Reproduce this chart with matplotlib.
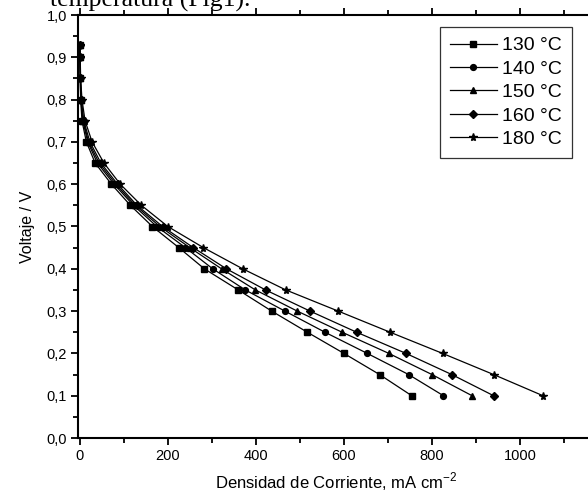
import numpy as np
import matplotlib
matplotlib.use("Agg")
import matplotlib.pyplot as plt
from matplotlib.ticker import MultipleLocator, FuncFormatter

plt.rcParams['font.family'] = ['Liberation Sans', 'DejaVu Sans']

# voltaje (V) para cada punto medido
voltaje = [0.93, 0.90, 0.85, 0.80, 0.75, 0.70, 0.65, 0.60, 0.55,
           0.50, 0.45, 0.40, 0.35, 0.30, 0.25, 0.20, 0.15, 0.10]

# densidad de corriente (mA cm-2) por temperatura
i_130 = [0, 0.5, 1, 2, 5, 15, 35, 72, 115, 165, 225, 283, 360, 436, 517, 600, 681, 754]
i_140 = [0, 0.5, 1, 2.5, 7, 18, 40, 78, 122, 175, 240, 302, 376, 466, 557, 653, 747, 826]
i_150 = [0, 0.5, 1.5, 3, 8, 20, 44, 82, 126, 182, 250, 322, 399, 494, 596, 702, 800, 891]
i_160 = [0, 0.5, 1.5, 3.5, 9, 23, 48, 86, 130, 188, 258, 333, 422, 523, 629, 741, 845, 940]
i_180 = [0, 1, 2, 5, 12, 28, 55, 92, 140, 200, 281, 370, 468, 587, 705, 824, 940, 1052]

etiquetas = ["130 °C", "140 °C", "150 °C", "160 °C", "180 °C"]
series = [i_130, i_140, i_150, i_160, i_180]
marcadores = ["s", "o", "^", "D", "*"]
tamanos = [3.8, 4.2, 4.8, 4.2, 5.8]

W, H = 588, 495
fig = plt.figure(figsize=(W / 100, H / 100), dpi=100)

# texto del documento que asoma por arriba
fig.text(50 / W, 1 - 7 / H, "temperatura (Fig1).", family="Liberation Serif",
         fontsize=18.5, va="baseline", ha="left")

ax = fig.add_axes([78 / W, (H - 438) / H, (594 - 78) / W, (438 - 15) / H])

for corr, lab, m, ms in zip(series, etiquetas, marcadores, tamanos):
    ax.plot(corr, voltaje, color="black", lw=0.9, marker=m, ms=ms,
            markerfacecolor="black", markeredgecolor="black", label=lab)

ax.set_xlim(-4, 1168)
ax.set_ylim(0, 1.0)
ax.xaxis.set_major_locator(MultipleLocator(200))
ax.xaxis.set_minor_locator(MultipleLocator(100))
ax.yaxis.set_major_locator(MultipleLocator(0.1))
ax.yaxis.set_minor_locator(MultipleLocator(0.05))
ax.yaxis.set_major_formatter(FuncFormatter(lambda v, p: f"{v:.1f}".replace(".", ",")))

for s in ax.spines.values():
    s.set_linewidth(1.5)
ax.spines['right'].set_visible(False)

ax.tick_params(which="both", direction="out", width=1.3, labelsize=10.5, top=True)
ax.tick_params(which="major", length=5, pad=3)
ax.tick_params(which="minor", length=3.5)

ax.set_xlabel("Densidad de Corriente, mA cm$^{\\mathregular{-2}}$", fontsize=12, labelpad=5)
ax.set_ylabel("Voltaje / V", fontsize=11.5, labelpad=8)

leg = ax.legend(loc="upper right", bbox_to_anchor=(572 / W, 1 - 27 / H),
                bbox_transform=fig.transFigure, frameon=True, fancybox=False,
                fontsize=14, numpoints=1, handlelength=2.4, labelspacing=0.3,
                borderpad=0.5, handletextpad=0.3, borderaxespad=0)
leg.get_frame().set_edgecolor("black")
leg.get_frame().set_linewidth(0.9)

fig.savefig("out.png", dpi=100)
